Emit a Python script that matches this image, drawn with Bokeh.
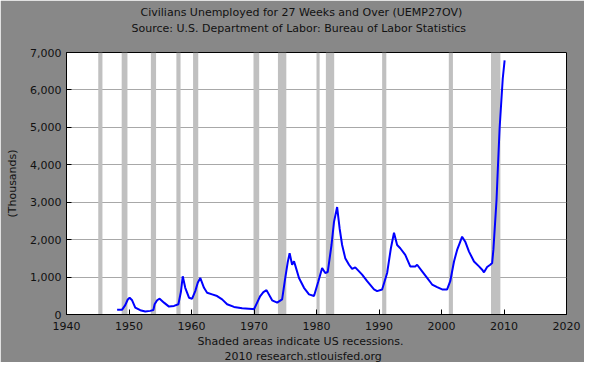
from bokeh.plotting import figure
from bokeh.models import Range1d, NumeralTickFormatter, FixedTicker, Title, ColumnDataSource
from bokeh.embed import file_html
from bokeh.resources import INLINE

# Data (thousands)
years = [1948.1, 1948.9, 1949.4, 1949.8, 1950.1, 1950.5, 1951.0, 1951.8, 1952.6, 1953.4,
         1953.9, 1954.1, 1954.5, 1954.9, 1955.6, 1956.4, 1957.2, 1957.9, 1958.3, 1958.6,
         1959.0, 1959.6, 1960.1, 1960.6, 1961.0, 1961.4, 1962.0, 1962.5, 1963.3, 1964.1,
         1964.9, 1965.7, 1966.8, 1968.1, 1969.7, 1970.0, 1970.5, 1971.0, 1971.5, 1972.0,
         1972.9, 1973.7, 1974.5, 1975.0, 1975.4, 1975.7, 1976.1, 1976.4, 1976.6, 1977.2,
         1978.0, 1978.8, 1979.6, 1980.3, 1980.9, 1981.4, 1981.8, 1982.4, 1982.8, 1983.3,
         1983.7, 1984.1, 1984.6, 1985.2, 1985.7, 1986.2, 1987.3, 1988.1, 1989.2, 1989.7,
         1990.5, 1991.3, 1991.9, 1992.4, 1992.9, 1993.4, 1994.2, 1995.0, 1995.8, 1996.1,
         1996.9, 1997.7, 1998.5, 1999.3, 2000.1, 2000.9, 2001.4, 2002.0, 2002.5, 2002.9,
         2003.3, 2003.8, 2004.4, 2005.2, 2006.0, 2006.5, 2006.8, 2007.3, 2007.8, 2008.1,
         2008.3, 2008.5, 2008.8, 2009.0, 2009.3, 2009.6, 2009.8, 2010.1]
unemployed = [124, 130, 250, 400, 449, 380, 185, 114, 79, 97,
              120, 273, 380, 422, 317, 211, 229, 273, 600, 1022,
              713, 449, 422, 625, 850, 977, 713, 581, 537, 493,
              405, 273, 202, 167, 150, 141, 317, 493, 600, 651,
              378, 317, 405, 977, 1400, 1638, 1329, 1420, 1312, 977,
              713, 537, 493, 889, 1241, 1109, 1136, 1857, 2475, 2871,
              2298, 1857, 1506, 1329, 1220, 1259, 1065, 889, 669, 625,
              669, 1109, 1770, 2184, 1857, 1770, 1593, 1285, 1285, 1329,
              1153, 977, 801, 731, 669, 669, 889, 1417, 1725, 1902,
              2078, 1946, 1681, 1417, 1285, 1197, 1127, 1268, 1329, 1374,
              1725, 2253, 3046, 3838, 4984, 5777, 6305, 6789]

# US recessions (NBER), start/end as decimal years
rec_start = [1945.08, 1948.83, 1953.50, 1957.58, 1960.25, 1969.92, 1973.83, 1980.0, 1981.5, 1990.5, 2001.17, 2007.92]
rec_end = [1945.75, 1949.75, 1954.33, 1958.25, 1961.08, 1970.83, 1975.17, 1980.5, 1982.83, 1991.17, 2001.83, 2009.42]

x_ticks = [1940, 1950, 1960, 1970, 1980, 1990, 2000, 2010, 2020]
y_ticks = [0, 1000, 2000, 3000, 4000, 5000, 6000, 7000]

FONT = "DejaVu Sans"
BG = "#888888"

p = figure(width=584, height=362, output_backend="svg", toolbar_location=None,
           x_range=Range1d(1940, 2020), y_range=Range1d(0, 7000),
           min_border_left=66, min_border_right=18, min_border_top=52, min_border_bottom=45)
p.border_fill_color = BG
p.background_fill_color = "white"
p.outline_line_color = "black"
p.outline_line_width = 1

# recession shading
p.quad(left=rec_start, right=rec_end, bottom=0, top=7000, fill_color="#c0c0c0", line_color=None)

src = ColumnDataSource(dict(x=years, y=unemployed))
p.line("x", "y", source=src, line_color="#0000ff", line_width=2)

p.xgrid.visible = False
p.ygrid.grid_line_color = "#a8a8a8"
p.ygrid.grid_line_width = 1

for ax in (p.xaxis[0], p.yaxis[0]):
    ax.axis_line_color = "black"
    ax.major_tick_line_color = "black"
    ax.major_tick_in = 5
    ax.major_tick_out = 0
    ax.minor_tick_line_color = None
    ax.major_label_text_font = FONT
    ax.major_label_text_font_size = "11px"
    ax.major_label_text_color = "#111111"

p.xaxis.ticker = FixedTicker(ticks=x_ticks)
p.yaxis.ticker = FixedTicker(ticks=y_ticks)
p.yaxis.formatter = NumeralTickFormatter(format="0,0")
p.xaxis.major_label_standoff = 7
p.yaxis.major_label_standoff = 5
p.yaxis.axis_label = "(Thousands)"
p.yaxis.axis_label_text_font = FONT
p.yaxis.axis_label_text_font_size = "11px"
p.yaxis.axis_label_text_font_style = "normal"
p.yaxis.axis_label_text_color = "#111111"
p.yaxis.axis_label_standoff = 8

def mk_title(text, offset, standoff):
    return Title(text=text, align="left", offset=offset, standoff=standoff,
                 text_font=FONT, text_font_size="11px", text_font_style="normal",
                 text_color="#111111")

# above: first added is nearest the frame
p.add_layout(mk_title(" ", 0, 2), "above")
p.add_layout(mk_title("Source: U.S. Department of Labor: Bureau of Labor Statistics", 65, 2), "above")
p.add_layout(mk_title("Civilians Unemployed for 27 Weeks and Over (UEMP27OV)", 74, 0), "above")
p.add_layout(mk_title("Shaded areas indicate US recessions.", 131, 0), "below")
p.add_layout(mk_title("2010 research.stlouisfed.org", 158, 0), "below")

open("out.html", "w").write(file_html(p, INLINE))
